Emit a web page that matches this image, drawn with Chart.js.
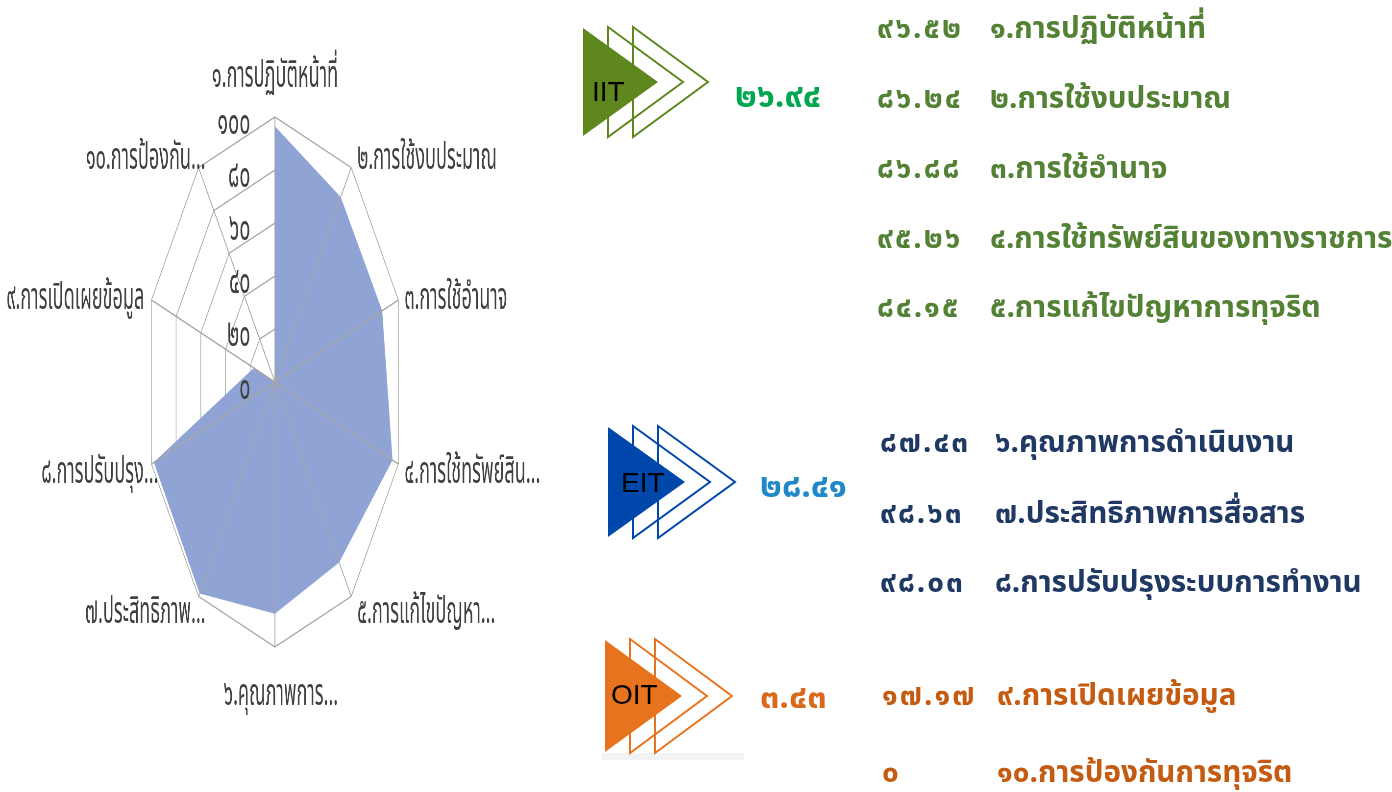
<!DOCTYPE html>
<html>
<head>
<meta charset="utf-8">
<script src="https://cdn.jsdelivr.net/npm/chart.js@4.4.0/dist/chart.umd.min.js"></script>
<style>
  body { margin: 0; background: #fff; width: 1392px; height: 792px; overflow: hidden; position: relative;
         font-family: "Noto Sans Thai", "Noto Sans", "DejaVu Sans", sans-serif; }
  #radar { position: absolute; left: 0; top: 0; width: 1140px; height: 792px;
           transform: scale(0.49, 1); transform-origin: 0 0; }
  #shapes { position: absolute; left: 0; top: 0; }
  .t { position: absolute; white-space: nowrap; line-height: 1; transform: translateY(-50%); }
  .tag { font-family: "Liberation Sans", Arial, sans-serif; font-size: 28px; color: #000; }
  .grp { font-size: 34px; font-weight: bold; }
  .row { font-size: 29.6px; font-weight: bold; }
  .num { letter-spacing: 2px; }
</style>
</head>
<body>
<div id="radar"><canvas id="my-chart" width="1140" height="792"></canvas></div>
<svg id="shapes" width="1392" height="792"></svg>
<div id="panel"></div>
<script>
const categories = ['๑.การปฏิบัติหน้าที่', '๒.การใช้งบประมาณ', '๓.การใช้อำนาจ', '๔.การใช้ทรัพย์สิน...', '๕.การแก้ไขปัญหา...',
                    '๖.คุณภาพการ...', '๗.ประสิทธิภาพ...', '๘.การปรับปรุง...', '๙.การเปิดเผยข้อมูล', '๑๐.การป้องกัน...'];
const scores = [96.52, 86.24, 86.88, 95.26, 84.15, 87.43, 98.63, 98.03, 17.17, 0];
const tickValues = [0, 20, 40, 60, 80, 100];
const tickLabels = ['๐', '๒๐', '๔๐', '๖๐', '๘๐', '๑๐๐'];

// right hand panel
const groupNames = ['IIT', 'EIT', 'OIT'];
const groupScores = ['๒๖.๙๔', '๒๘.๔๑', '๓.๔๓'];
const itemScores = ['๙๖.๕๒', '๘๖.๒๔', '๘๖.๘๘', '๙๕.๒๖', '๘๔.๑๕', '๘๗.๔๓', '๙๘.๖๓', '๙๘.๐๓', '๑๗.๑๗', '๐'];
const itemNames = ['๑.การปฏิบัติหน้าที่', '๒.การใช้งบประมาณ', '๓.การใช้อำนาจ', '๔.การใช้ทรัพย์สินของทางราชการ',
                   '๕.การแก้ไขปัญหาการทุจริต', '๖.คุณภาพการดำเนินงาน', '๗.ประสิทธิภาพการสื่อสาร',
                   '๘.การปรับปรุงระบบการทำงาน', '๙.การเปิดเผยข้อมูล', '๑๐.การป้องกันการทุจริต'];
const itemGroup = [0, 0, 0, 0, 0, 1, 1, 1, 2, 2];

const thaiFont = '"Noto Sans Thai", "Noto Sans", "DejaVu Sans", sans-serif';
const sx = 0.49; // the original picture is squeezed sideways

// angle lines, tick labels and category labels go on top of the fill (excel style)
const overlay = {
  id: 'overlay',
  afterDatasetsDraw(chart) {
    const s = chart.scales.r;
    const ctx = chart.ctx;
    ctx.save();
    ctx.strokeStyle = '#a6a6a6';
    ctx.lineWidth = 1.6;
    categories.forEach((c, i) => {
      const p = s.getPointPositionForValue(i, 100);
      ctx.beginPath();
      ctx.moveTo(s.xCenter, s.yCenter);
      ctx.lineTo(p.x, p.y);
      ctx.stroke();
    });
    ctx.fillStyle = '#404040';
    ctx.font = '40px ' + thaiFont;
    ctx.textAlign = 'right';
    ctx.textBaseline = 'middle';
    tickValues.forEach((v, i) => {
      const d = s.getDistanceFromCenterForValue(v);
      ctx.fillText(tickLabels[i], s.xCenter - 50, s.yCenter - d + 9);
    });

    ctx.font = '37px ' + thaiFont;
    categories.forEach((c, i) => {
      const p = s.getPointPositionForValue(i, 100);
      const a = s.getIndexAngle(i);
      let x = p.x, y = p.y;
      if (i === 0) {
        ctx.textAlign = 'center'; y -= 37;
      } else if (i === categories.length / 2) {
        ctx.textAlign = 'center'; x += 6 / sx; y += 51;
      } else if (Math.sin(a) > 0) {
        ctx.textAlign = 'left'; x += 6 / sx; y += 6.5 - 15 * Math.cos(a);
      } else {
        ctx.textAlign = 'right'; x += (c.endsWith('...') ? 7 : -7) / sx; y += 6.5 - 15 * Math.cos(a);
      }
      ctx.fillText(c, x, y);
    });
    ctx.restore();
  }
};

const ctx = document.getElementById('my-chart').getContext('2d');
const myChart = new Chart(ctx, {
  type: 'radar',
  data: {
    labels: categories,
    datasets: [{
      data: scores,
      backgroundColor: 'rgb(143,163,212)',
      borderWidth: 0,
      pointRadius: 0,
      fill: true
    }]
  },
  options: {
    responsive: false,
    animation: false,
    layout: { padding: { top: 117, bottom: 145, left: 0, right: 18 } },
    plugins: { legend: { display: false }, tooltip: { enabled: false } },
    scales: {
      r: {
        min: 0,
        max: 100,
        ticks: { stepSize: 20, display: false },
        grid: { color: '#a6a6a6', lineWidth: 1.4 },
        angleLines: { display: false },
        pointLabels: { display: false }
      }
    }
  },
  plugins: [overlay]
});

// chevron badges
const badgeColors = ['#5e871e', '#0047ab', '#e8731e'];
const badges = [
  { x: 583, top: 28, bot: 136, tip: 658 },
  { x: 608, top: 427, bot: 537, tip: 685 },
  { x: 605, top: 640, bot: 752, tip: 682 }
];
const svg = document.getElementById('shapes');
let svgHtml = '<rect x="602" y="753" width="142" height="7" fill="#f3f3f3"/>';
badges.forEach((b, g) => {
  const mid = (b.top + b.bot) / 2;
  [25, 50].forEach(off => {
    svgHtml += `<polygon points="${b.x + off},${b.top - 1} ${b.tip + off},${mid} ${b.x + off},${b.bot + 1}" fill="none" stroke="${badgeColors[g]}" stroke-width="2"/>`;
  });
  svgHtml += `<polygon points="${b.x},${b.top} ${b.tip},${mid} ${b.x},${b.bot}" fill="${badgeColors[g]}"/>`;
});
svg.innerHTML = svgHtml;

const panel = document.getElementById('panel');
let html = '';
const tagPos = [[592, 92], [621, 483], [611, 695]];
const grpPos = [[735, 97], [760, 487], [760, 698]];
const grpColors = ['#00a651', '#1e88c8', '#d9691c'];
groupNames.forEach((n, g) => {
  html += `<div class="t tag" style="left:${tagPos[g][0]}px;top:${tagPos[g][1]}px">${n}</div>`;
  html += `<div class="t grp" style="left:${grpPos[g][0]}px;top:${grpPos[g][1]}px;color:${grpColors[g]}">${groupScores[g]}</div>`;
});
const rowColors = ['#548235', '#1f3864', '#c55a11'];
const rowY = [30, 100, 170, 240, 309, 444, 515, 584, 697, 774];
const numX = [877, 880, 882];
const nameX = [990, 995, 997];
itemNames.forEach((n, i) => {
  const g = itemGroup[i];
  html += `<div class="t row num" style="left:${numX[g]}px;top:${rowY[i]}px;color:${rowColors[g]}">${itemScores[i]}</div>`;
  html += `<div class="t row" style="left:${nameX[g]}px;top:${rowY[i]}px;color:${rowColors[g]}">${n}</div>`;
});
panel.innerHTML = html;
</script>
</body>
</html>
